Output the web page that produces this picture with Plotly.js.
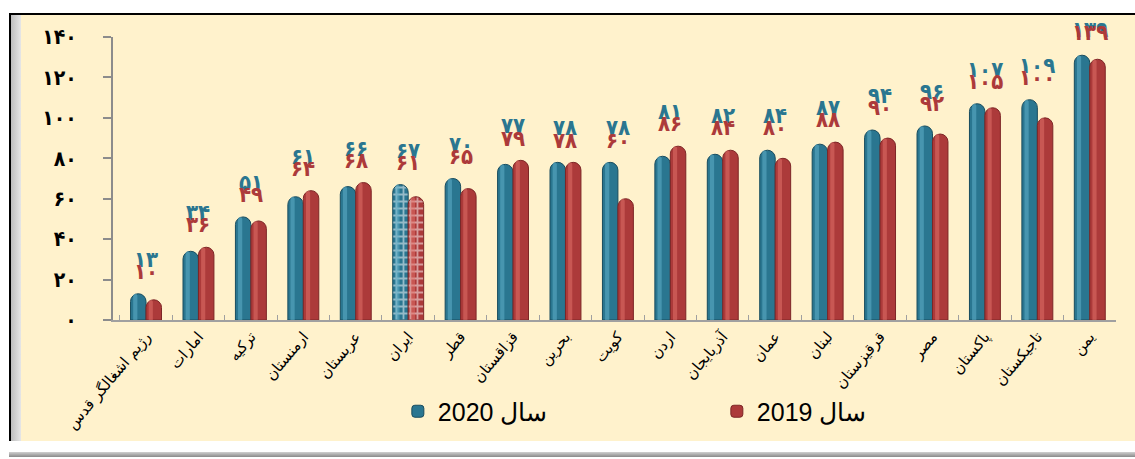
<!DOCTYPE html>
<html>
<head>
<meta charset="utf-8">
<script src="https://cdn.plot.ly/plotly-3.0.1.min.js"></script>
<style>
  html, body { margin: 0; padding: 0; background: #ffffff; width: 1135px; height: 459px; overflow: hidden; }
  #frame { position: absolute; left: 9px; top: 13px; width: 1126px; height: 428px;
           background: #FFF2CC; border-top: 2px solid #000; border-left: 2px solid #000; box-sizing: border-box; }
  #strip { position: absolute; left: 0; top: 0; width: 10px; height: 100%;
           background: linear-gradient(to right, #bdbdbd, #e6e6e6); }
  #bottom { position: absolute; left: 9px; top: 452px; width: 1126px; height: 5px;
            background: linear-gradient(to bottom, #d0d0d0, #8a8a8a); }
  #chart { position: absolute; left: 0; top: 0; width: 1135px; height: 459px; }
</style>
</head>
<body>
<div id="frame"><div id="strip"></div></div>
<div id="bottom"></div>
<div id="chart"></div>
<script>
const categories = ['رژیم اشغالگر قدس','امارات','ترکیه','ارمنستان','عربستان','ایران','قطر','قزاقستان','بحرین','کویت','اردن','آذربایجان','عمان','لبنان','قرقیزستان','مصر','پاکستان','تاجیکستان','یمن'];
const values2020 = [13,34,51,61,66,67,70,77,78,78,81,82,84,87,94,96,107,109,131];
const values2019 = [10,36,49,64,68,61,65,79,78,60,86,84,80,88,90,92,105,100,129];
const labels2020 = ['۱۳','۳۴','۵۱','۶۱','۶۶','۶۷','۷۰','۷۷','۷۸','۷۸','۸۱','۸۲','۸۴','۸۷','۹۴','۹۶','۱۰۷','۱۰۹','۱۳۹'];
const labels2019 = ['۱۰','۳۶','۴۹','۶۴','۶۸','۶۱','۶۵','۷۹','۷۸','۶۰','۸۶','۸۴','۸۰','۸۸','۹۰','۹۲','۱۰۵','۱۰۰','۱۳۹'];
const tickValues = [0,20,40,60,80,100,120,140];
const tickLabels = ['۰','۲۰','۴۰','۶۰','۸۰','۱۰۰','۱۲۰','۱۴۰'];
const seriesNames = ['سال 2020','سال 2019'];

const TEAL = '#2a7690', TEAL_EDGE = '#184c5e', TEAL_HI = 'rgba(95,175,200,0.55)';
const RED = '#ac3a3a', RED_EDGE = '#7d2626', RED_HI = 'rgba(228,115,108,0.5)';
const YMAX = 140;
const BW = 0.295;
const patternShapes = categories.map(c => c === 'ایران' ? '+' : '');

function baseTrace(vals, name, color, edge, offset) {
  return {
    type: 'bar', x: categories, y: vals, name: '\u202B' + name + '\u202C',
    offset: offset, width: BW,
    marker: { color: color, cornerradius: 8, line: { width: 1, color: edge },
              pattern: { shape: patternShapes, fgcolor: '#ffffff', fillmode: 'overlay', size: 7, solidity: 0.45 } },
    hoverinfo: 'x+y'
  };
}
function highlightTrace(vals, color, offset) {
  return {
    type: 'bar', x: categories, y: vals, showlegend: false, hoverinfo: 'skip',
    offset: offset, width: 0.08,
    marker: { color: color, cornerradius: 8, line: { width: 0 } }
  };
}
const traces = [
  baseTrace(values2020, seriesNames[0], TEAL, TEAL_EDGE, -BW),
  baseTrace(values2019, seriesNames[1], RED, RED_EDGE, 0),
  highlightTrace(values2020, TEAL_HI, -BW + 0.05),
  highlightTrace(values2019, RED_HI, 0.05)
];

const labelFont = { family: 'DejaVu Sans Condensed, DejaVu Sans', size: 22, weight: 'bold' };
const annotations = [];
categories.forEach((c, i) => {
  const m = Math.max(values2020[i], values2019[i]);
  annotations.push({ x: c, y: Math.min(m + 17, 143.5) / YMAX, text: labels2020[i], showarrow: false,
    xref: 'x', yref: 'paper', yanchor: 'middle',
    font: Object.assign({ color: TEAL }, labelFont) });
});
categories.forEach((c, i) => {
  const m = Math.max(values2020[i], values2019[i]);
  annotations.push({ x: c, y: Math.min(m + 11, 142) / YMAX, text: labels2019[i], showarrow: false,
    xref: 'x', yref: 'paper', yanchor: 'middle',
    font: Object.assign({ color: RED }, labelFont) });
});

const layout = {
  width: 1135, height: 459,
  paper_bgcolor: 'rgba(0,0,0,0)', plot_bgcolor: 'rgba(0,0,0,0)',
  margin: { l: 113, r: 19, t: 37, b: 139 },
  barmode: 'overlay',
  showlegend: true,
  legend: { orientation: 'h', x: 0.284, y: -0.242, xanchor: 'left', yanchor: 'top',
            entrywidth: 274, entrywidthmode: 'pixels', bgcolor: 'rgba(0,0,0,0)',
            font: { family: 'Liberation Sans', size: 25, color: '#000' } },
  xaxis: { type: 'category', range: [-0.63, 18.5], automargin: false,
           showline: true, linecolor: '#a0a0a0', linewidth: 2,
           ticks: 'inside', tickson: 'boundaries', ticklen: 5, tickcolor: '#a0a0a0', tickwidth: 1,
           tickangle: -50, showgrid: false, zeroline: false,
           tickfont: { family: 'DejaVu Sans', size: 15, color: '#000' } },
  yaxis: { range: [0, YMAX], automargin: false, tickmode: 'array', tickvals: tickValues, ticktext: tickLabels,
           showline: true, linecolor: '#8c8c8c', linewidth: 2,
           ticks: 'outside', ticklen: 8, tickcolor: '#8c8c8c', tickwidth: 2, ticklabelstandoff: 22,
           showgrid: false, zeroline: false,
           tickfont: { family: 'DejaVu Sans Condensed, DejaVu Sans', size: 21, color: '#000', weight: 'bold' } },
  annotations: annotations
};

Plotly.newPlot('chart', traces, layout, { displayModeBar: false, staticPlot: true });
</script>
</body>
</html>
